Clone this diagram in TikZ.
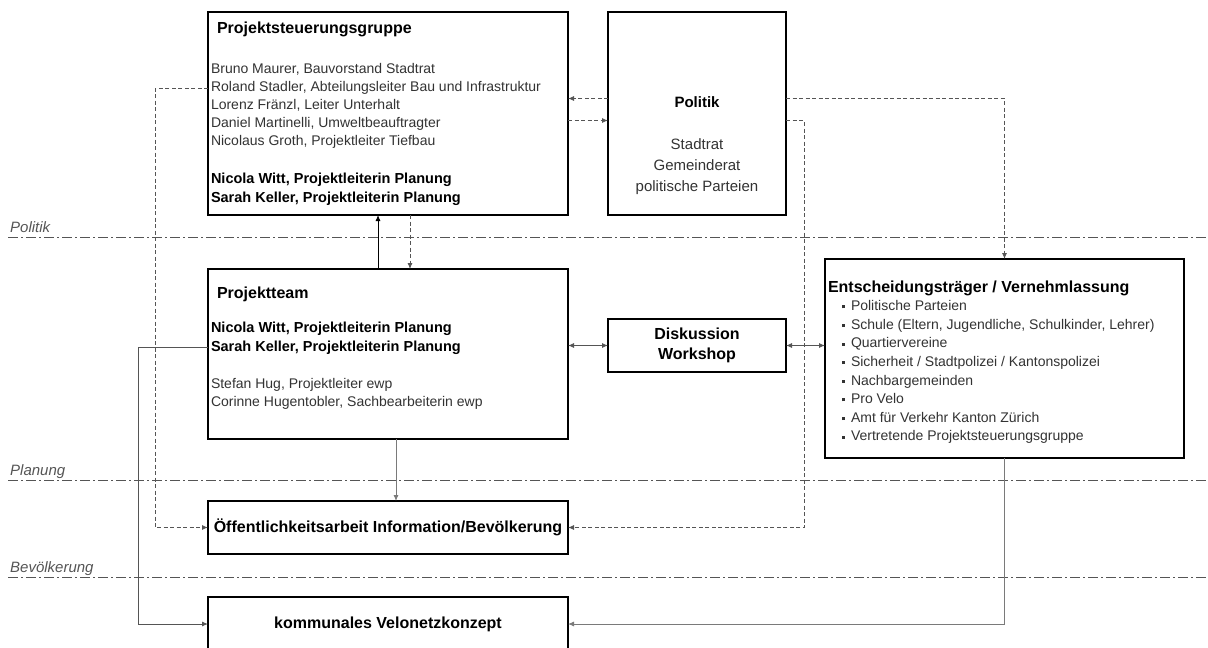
\documentclass[tikz,border=0pt]{standalone}
\usepackage{fontspec}
\setmainfont{Liberation Sans}
\usepackage{tikz}
\usetikzlibrary{shapes.geometric, arrows.meta}
\usetikzlibrary{positioning}
\definecolor{txt}{HTML}{333333}
\definecolor{linie}{HTML}{555555}
\definecolor{hell}{HTML}{7A7A7A}
\def\reg{\fontsize{14}{18}\selectfont}
\def\fett{\fontsize{14.5}{18}\selectfont\bfseries\color{black}}
\def\titel{\fontsize{16}{18}\selectfont\bfseries\color{black}}
\def\pkt{\hspace*{14pt}\rule[2.2pt]{3pt}{3pt}\hspace*{6pt}}
\tikzstyle{org} = [rectangle, draw=black, fill=white, line width=2.8pt, inner sep=3pt, outer sep=0pt, text=txt]
\tikzstyle{schild} = [org, minimum width=360pt, minimum height=53pt, font=\titel, align=center, text=black]
\tikzstyle{aro} = [->, line width=0.9pt, draw=black]
\tikzstyle{daro} = [->, line width=0.9pt, draw=linie, dash pattern=on 4pt off 2.5pt]
\tikzstyle{garo} = [->, line width=0.9pt, draw=hell]
\tikzstyle{biaro} = [<->, line width=0.9pt, draw=linie]
\tikzstyle{ebene} = [draw=linie, line width=0.9pt, dash pattern=on 10pt off 3pt on 2pt off 3pt]
\tikzstyle{ebenetxt} = [anchor=base west, inner sep=0pt, font=\fontsize{15}{18}\selectfont\itshape, text=linie]

\begin{document}
\begin{tikzpicture}[x=1pt, y=1pt, >={Latex[length=6pt,width=5pt]}]

  \useasboundingbox (0,0) rectangle (1208,-648);

  \draw [ebene] (8,-237) -- (1208,-237);
  \draw [ebene] (8,-480) -- (1208,-480);
  \draw [ebene] (8,-577) -- (1208,-577);
  \node (lpol) [ebenetxt] at (10,-232.5) {Politik};
  \node (lplan) [ebenetxt] at (10,-475.5) {Planung};
  \node (lbev) [ebenetxt] at (10,-572.5) {Bevölkerung};

  \node (psg) [org] at (388,-113.5) {\parbox[t][197pt][t]{354pt}{\reg\rule{0pt}{18pt}\hspace*{6pt}{\titel Projektsteuerungsgruppe}\\[22pt]
    Bruno Maurer, Bauvorstand Stadtrat\\
    Roland Stadler, Abteilungsleiter Bau und Infrastruktur\\
    Lorenz Fränzl, Leiter Unterhalt\\
    Daniel Martinelli, Umweltbeauftragter\\
    Nicolaus Groth, Projektleiter Tiefbau\\[20pt]
    {\fett Nicola Witt, Projektleiterin Planung}\\[1pt]
    {\fett Sarah Keller, Projektleiterin Planung}}};

  \node (pol) [org, right=40pt of psg.north east, anchor=north west] {\parbox[t][197pt][t]{172pt}{\centering\fontsize{15}{21}\selectfont\rule{0pt}{92pt}{\bfseries\color{black}Politik}\\[21pt]
    Stadtrat\\
    Gemeinderat\\
    politische Parteien}};

  \node (team) [org, below=54pt of psg] {\parbox[t][164pt][t]{354pt}{\reg\rule{0pt}{26pt}\hspace*{6pt}{\titel Projektteam}\\[16pt]
    {\fett Nicola Witt, Projektleiterin Planung}\\[1pt]
    {\fett Sarah Keller, Projektleiterin Planung}\\[19pt]
    Stefan Hug, Projektleiter ewp\\
    Corinne Hugentobler, Sachbearbeiterin ewp}};

  \node (disk) [org, below=104pt of pol, minimum width=178pt, minimum height=53pt, align=center, text=black, font=\fontsize{16}{20}\selectfont\bfseries] {Diskussion\\Workshop};

  \node (ent) [org] at (1004.5,-358.5) {\parbox[t][193pt][t]{353pt}{\fontsize{14}{18.6}\selectfont\rule{0pt}{30pt}{\fontsize{16}{18.6}\selectfont\bfseries\color{black}Entscheidungsträger / Vernehmlassung}\\
    \pkt Politische Parteien\\
    \pkt Schule (Eltern, Jugendliche, Schulkinder, Lehrer)\\
    \pkt Quartiervereine\\
    \pkt Sicherheit / Stadtpolizei / Kantonspolizei\\
    \pkt Nachbargemeinden\\
    \pkt Pro Velo\\
    \pkt Amt für Verkehr Kanton Zürich\\
    \pkt Vertretende Projektsteuerungsgruppe}};

  \node (oeff) [schild, below=62pt of team] {Öffentlichkeitsarbeit Information/Bevölkerung};
  \node (velo) [schild, below=43pt of oeff, minimum height=54pt] {kommunales Velonetzkonzept};

  \draw [aro] ([xshift=-10pt]team.north) -- ([xshift=-10pt]psg.south);
  \draw [daro] ([xshift=22pt]psg.south) -- ([xshift=22pt]team.north);
  \draw [daro] ([yshift=15pt]pol.west) -- ([yshift=15pt]psg.east);
  \draw [daro] ([yshift=-7pt]psg.east) -- ([yshift=-7pt]pol.west);
  \draw [daro] ([yshift=15pt]pol.east) -| (ent.north);
  \draw [daro] ([yshift=-7pt]pol.east) -- ++(18pt,0) |- (oeff.east);
  \draw [daro] ([yshift=25pt]psg.west) -- ++(-53pt,0) |- (oeff.west);

  \draw [garo, draw=linie] ([yshift=7pt]team.west) -- ++(-70pt,0) |- (velo.west);
  \draw [garo] ([xshift=8pt]team.south) -- ([xshift=8pt]oeff.north);
  \draw [garo] (ent.south) |- (velo.east);

  \draw [biaro] (disk.west -| team.east) -- (disk.west);
  \draw [biaro] (disk.east) -- (disk.east -| ent.west);

\end{tikzpicture}
\end{document}
